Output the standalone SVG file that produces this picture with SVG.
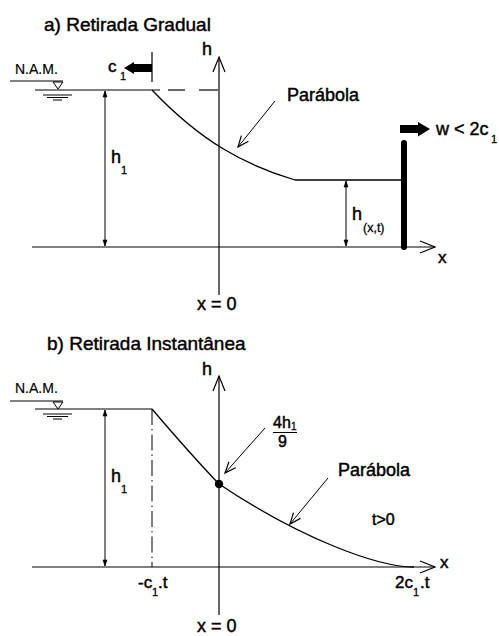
<svg xmlns="http://www.w3.org/2000/svg" width="499" height="636" viewBox="0 0 499 636">
<style>
  text { font-family: "Liberation Sans", Arial, sans-serif; fill: #000; stroke: #000; stroke-width: 0.45; }
  .t19 { font-size: 19px; }
  .t18 { font-size: 18px; }
  .t17 { font-size: 17px; }
  .t16 { font-size: 16px; }
  .nam { font-size: 14px; stroke-width: 0.2; }
  .sub { font-size: 11px; stroke-width: 0.3; }
  .ln { stroke: #000; stroke-width: 1.2; fill: none; }
  .thin { stroke: #000; stroke-width: 1; fill: none; }
  .crv { stroke: #000; stroke-width: 1.3; fill: none; }
  .axis { marker-end: url(#axisHead); }
  .lead { marker-end: url(#leadHead); }
  .dim { marker-start: url(#dimHead); marker-end: url(#dimHead); }
  .blk { fill: #000; stroke: none; }
</style>
<defs>
  <marker id="axisHead" markerUnits="userSpaceOnUse" markerWidth="20" markerHeight="20" viewBox="-17 -10 20 20" refX="0" refY="0" orient="auto" overflow="visible">
    <path d="M-15,-6 L0,0 L-15,6" fill="none" stroke="#000" stroke-width="1.2"/>
  </marker>
  <marker id="leadHead" markerUnits="userSpaceOnUse" markerWidth="16" markerHeight="16" viewBox="-13 -8 16 16" refX="0" refY="0" orient="auto" overflow="visible">
    <path d="M-11,-4.5 L0,0 L-11,4.5" fill="none" stroke="#000" stroke-width="1.2"/>
  </marker>
  <marker id="dimHead" markerUnits="userSpaceOnUse" markerWidth="10" markerHeight="10" viewBox="-8 -5 10 10" refX="0" refY="0" orient="auto-start-reverse" overflow="visible">
    <path d="M-6,-2 L0,0 L-6,2 Z" fill="#000" stroke="#000" stroke-width="0.6"/>
  </marker>
</defs>

<!-- ===== Panel a ===== -->
<g id="panel-a">
  <g id="a-title"><text class="t19" x="44" y="31">a) Retirada Gradual</text></g>

  <g id="a-nam">
    <text class="nam" x="15" y="74">N.A.M.</text>
    <line class="thin" x1="10" y1="81" x2="63" y2="81"/>
    <path class="thin" d="M53,82 L63,82 L58,89 Z"/>
    <line class="thin" x1="43" y1="95" x2="72" y2="95"/>
    <line class="thin" x1="47" y1="97.5" x2="68" y2="97.5"/>
    <line class="thin" x1="53" y1="100" x2="62" y2="100"/>
  </g>

  <g id="a-surface">
    <line class="ln" x1="35" y1="90" x2="160" y2="90"/>
    <line class="ln" x1="168" y1="90" x2="185" y2="90"/>
    <line class="ln" x1="199" y1="90" x2="218" y2="90"/>
  </g>

  <g id="a-c1">
    <line class="ln" x1="152" y1="52" x2="152" y2="82"/>
    <polygon class="blk" points="124,68 134,62 134,64 152,64 152,72 134,72 134,74"/>
    <text class="t17" x="108" y="72">c</text>
    <text class="sub" x="120" y="80">1</text>
  </g>

  <g id="a-h-axis">
    <text class="t18" x="202" y="55">h</text>
  </g>

  <g id="a-profile">
    <path class="crv" d="M152,90 C202,142.5 245,165 295,180 L403,180"/>
  </g>

  <g id="a-wall">
    <line x1="404" y1="143" x2="404" y2="247" stroke="#000" stroke-width="6" stroke-linecap="round"/>
    <polygon class="blk" points="400,125 418,125 418,122 430,129 418,136.5 418,133 400,133"/>
    <text class="t18" x="436" y="135">w &lt; 2c</text>
    <text class="sub" x="491" y="143">1</text>
  </g>

  <g id="a-h1">
    <text class="t18" x="111" y="163">h</text>
    <text class="sub" x="121" y="174">1</text>
  </g>

  <g id="a-hxt">
    <text class="t18" x="352" y="220">h</text>
    <text class="sub" x="363" y="232" style="font-size:12.5px">(x,t)</text>
  </g>

  <g id="a-parabola-label"><text class="t18" x="287" y="101">Parábola</text></g>
  <g id="a-x-label"><text class="t17" x="438" y="263">x</text></g>
  <g id="a-x0-label"><text class="t18" x="197" y="310">x = 0</text></g>
</g>

<!-- ===== Panel b ===== -->
<g id="panel-b">
  <g id="b-title"><text class="t19" x="47" y="350">b) Retirada Instantânea</text></g>

  <g id="b-nam">
    <text class="nam" x="15" y="393">N.A.M.</text>
    <line class="thin" x1="10" y1="401" x2="63" y2="401"/>
    <path class="thin" d="M53,402 L63,402 L58,409 Z"/>
    <line class="thin" x1="43" y1="414" x2="72" y2="414"/>
    <line class="thin" x1="47" y1="416.5" x2="68" y2="416.5"/>
    <line class="thin" x1="53" y1="419" x2="62" y2="419"/>
  </g>

  <g id="b-surface">
    <line class="ln" x1="35" y1="409" x2="152" y2="409"/>
    <line class="thin" x1="152" y1="409" x2="152" y2="567" stroke-dasharray="16 4 1.5 4"/>
  </g>

  <g id="b-h-axis"><text class="t18" x="202" y="375">h</text></g>

  <g id="b-profile">
    <path class="crv" d="M152,409 C175,436 197,461 219,484 C301.7,539.3 378,567 414,567"/>
    <circle class="blk" cx="219" cy="484" r="4.2"/>
  </g>

  <g id="b-h1">
    <text class="t18" x="111" y="482">h</text>
    <text class="sub" x="121" y="493">1</text>
  </g>

  <g id="b-frac">
    <text class="t16" x="273" y="428">4h</text>
    <text style="font-size:10px;stroke-width:0.3" x="291" y="430">1</text>
    <line class="thin" x1="273" y1="432.5" x2="297" y2="432.5"/>
    <text class="t16" x="278" y="447">9</text>
  </g>

  <g id="b-parabola-label"><text class="t18" x="338" y="476">Parábola</text></g>
  <g id="b-t-label"><text class="t16" x="372" y="525">t&gt;0</text></g>
  <g id="b-x-label"><text class="t17" x="440" y="568">x</text></g>

  <g id="b-minus-c1t">
    <text class="t17" x="138" y="588">-c</text>
    <text class="sub" x="152" y="596">1</text>
    <text class="t17" x="158" y="588">.t</text>
  </g>
  <g id="b-2c1t">
    <text class="t17" x="395" y="588">2c</text>
    <text class="sub" x="413" y="596">1</text>
    <text class="t17" x="420" y="588">.t</text>
  </g>
  <g id="b-x0-label"><text class="t18" x="197" y="632">x = 0</text></g>
</g>

<!-- ===== Connectors ===== -->
<g id="connectors">
  <line class="ln axis" x1="219" y1="295" x2="219" y2="57"/>
  <line class="ln axis" x1="32" y1="247" x2="435" y2="247"/>
  <line class="thin dim" x1="105" y1="91" x2="105" y2="246"/>
  <line class="thin dim" x1="346" y1="181" x2="346" y2="246"/>
  <line class="thin lead" x1="275" y1="101" x2="238" y2="147"/>

  <line class="ln axis" x1="219" y1="615" x2="219" y2="376"/>
  <line class="ln axis" x1="32" y1="567" x2="435" y2="567"/>
  <line class="thin dim" x1="105" y1="410" x2="105" y2="566"/>
  <line class="thin lead" x1="265" y1="428" x2="225" y2="473"/>
  <line class="thin lead" x1="328" y1="478" x2="290" y2="524"/>
</g>
</svg>
